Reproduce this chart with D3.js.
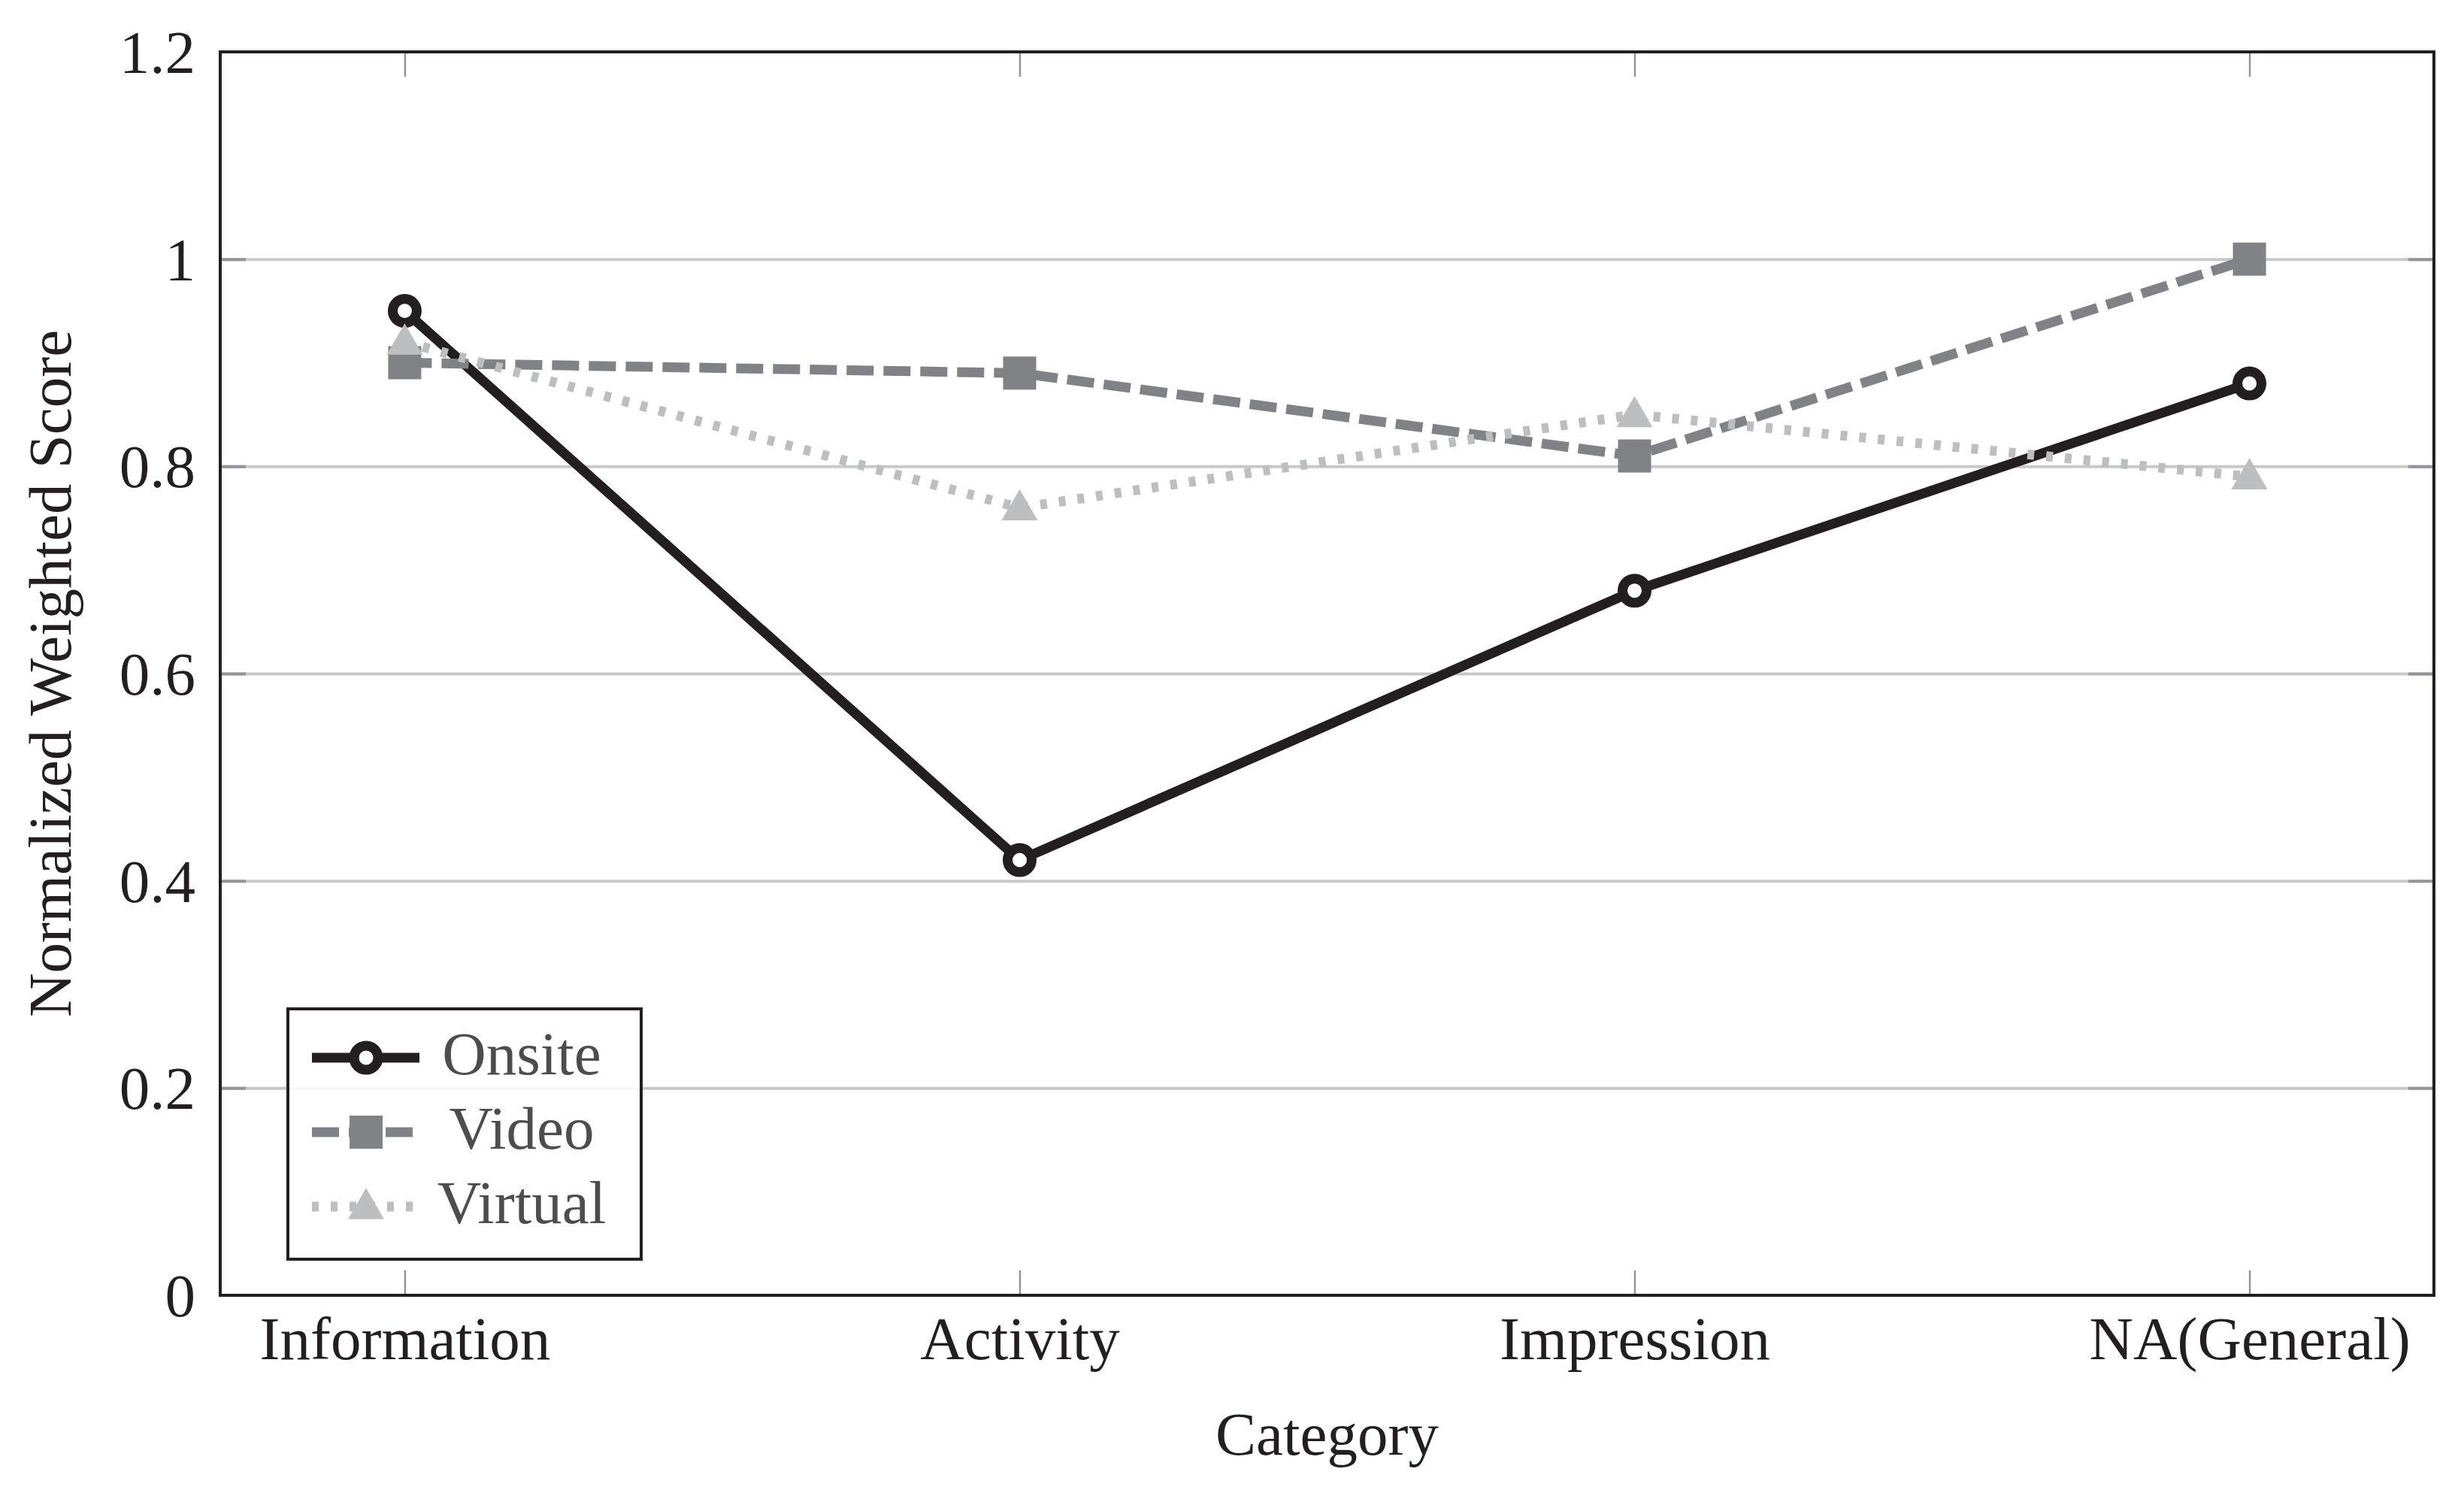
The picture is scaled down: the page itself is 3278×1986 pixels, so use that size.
<!DOCTYPE html>
<html>
<head>
<meta charset="utf-8">
<script src="https://cdn.jsdelivr.net/npm/d3@7"></script>
<style>
  body { margin: 0; background: #fff; }
  text { font-family: "Liberation Serif", "DejaVu Serif", serif; }
</style>
</head>
<body>
<div id="my_dataviz"></div>
<script>
// data
var categories = ["Information", "Activity", "Impression", "NA(General)"];
var onsite  = [0.95, 0.42, 0.68, 0.88];
var video   = [0.90, 0.89, 0.81, 1.00];
var virtual = [0.92, 0.76, 0.85, 0.79];
var seriesNames = ["Onsite", "Video", "Virtual"];
var yTicks = [0, 0.2, 0.4, 0.6, 0.8, 1.0, 1.2];
var yTickLabels = ["0", "0.2", "0.4", "0.6", "0.8", "1", "1.2"];

// set the dimensions and margins of the graph
var margin = {top: 69, right: 40, bottom: 263, left: 293},
    width = 3278 - margin.left - margin.right,
    height = 1986 - margin.top - margin.bottom;

var svg = d3.select("#my_dataviz")
  .append("svg")
    .attr("width", width + margin.left + margin.right)
    .attr("height", height + margin.top + margin.bottom)
  .append("g")
    .attr("transform", "translate(" + margin.left + "," + margin.top + ")");

var fontSize = 81;

var x = d3.scalePoint()
  .domain(categories)
  .range([0, width])
  .padding(0.3);

var y = d3.scaleLinear()
  .domain([0, 1.2])
  .range([height, 0]);

// horizontal grid
svg.append("g")
  .call(d3.axisLeft(y).tickValues(yTicks.slice(1, -1)).tickSize(-width).tickFormat(""))
  .call(function(g) { g.select(".domain").remove(); })
  .selectAll("line")
    .attr("stroke", "#c7c8c9")
    .attr("stroke-width", 4);

// inside ticks, left and right
svg.append("g")
  .call(d3.axisLeft(y).tickValues(yTicks.slice(1, -1)).tickSize(-34).tickFormat(""))
  .call(function(g) { g.select(".domain").remove(); })
  .selectAll("line").attr("stroke", "#939598").attr("stroke-width", 4);
svg.append("g")
  .attr("transform", "translate(" + width + ",0)")
  .call(d3.axisRight(y).tickValues(yTicks.slice(1, -1)).tickSize(-34).tickFormat(""))
  .call(function(g) { g.select(".domain").remove(); })
  .selectAll("line").attr("stroke", "#939598").attr("stroke-width", 4);

// x ticks, bottom and top
svg.append("g")
  .attr("transform", "translate(0," + height + ")")
  .call(d3.axisBottom(x).tickSize(-33).tickFormat(""))
  .call(function(g) { g.select(".domain").remove(); })
  .selectAll("line").attr("stroke", "#939598").attr("stroke-width", 2.5);
svg.append("g")
  .call(d3.axisTop(x).tickSize(-33).tickFormat(""))
  .call(function(g) { g.select(".domain").remove(); })
  .selectAll("line").attr("stroke", "#939598").attr("stroke-width", 2.5);

// tick labels
svg.append("g")
  .call(d3.axisLeft(y).tickValues(yTicks).tickSize(0).tickPadding(33)
    .tickFormat(function(d, i) { return yTickLabels[i]; }))
  .call(function(g) { g.select(".domain").remove(); })
  .selectAll("text")
    .attr("fill", "#231f20")
    .attr("dy", "0.34em")
    .style("font-size", fontSize + "px")
    .style("font-family", "Liberation Serif");

svg.append("g")
  .attr("transform", "translate(0," + height + ")")
  .call(d3.axisBottom(x).tickSize(0).tickPadding(27))
  .call(function(g) { g.select(".domain").remove(); })
  .selectAll("text")
    .attr("fill", "#231f20")
    .style("font-size", fontSize + "px")
    .style("font-family", "Liberation Serif");

// axis titles
svg.append("text")
  .attr("x", width / 2)
  .attr("y", 1935 - margin.top)
  .style("text-anchor", "middle")
  .style("font-size", fontSize + "px")
  .attr("fill", "#231f20")
  .text("Category");

svg.append("text")
  .attr("transform", "translate(" + (94 - margin.left) + "," + (height / 2) + ") rotate(-90)")
  .style("text-anchor", "middle")
  .style("font-size", fontSize + "px")
  .attr("fill", "#231f20")
  .text("Normalized Weighted Score");

// series styles
var styles = [
  {name: seriesNames[0], values: onsite,  color: "#231f20", dash: null,    marker: "circle"},
  {name: seriesNames[1], values: video,   color: "#808285", dash: "36,13", marker: "square"},
  {name: seriesNames[2], values: virtual, color: "#bcbec0", dash: "9,16",  marker: "triangle"}
];

var line = d3.line()
  .x(function(d, i) { return x(categories[i]); })
  .y(function(d) { return y(d); });

function drawMarker(g, kind, color, cx, cy) {
  if (kind === "circle") {
    g.append("circle")
      .attr("cx", cx).attr("cy", cy).attr("r", 16)
      .attr("fill", "#fff")
      .attr("stroke", color)
      .attr("stroke-width", 13);
  } else if (kind === "square") {
    g.append("rect")
      .attr("x", cx - 22).attr("y", cy - 22)
      .attr("width", 44).attr("height", 44)
      .attr("fill", color);
  } else {
    g.append("path")
      .attr("d", d3.symbol().type(d3.symbolTriangle).size(1000)())
      .attr("transform", "translate(" + cx + "," + (cy + 3) + ")")
      .attr("fill", color);
  }
}

styles.forEach(function(s) {
  var g = svg.append("g");
  g.append("path")
    .datum(s.values)
    .attr("d", line)
    .attr("fill", "none")
    .attr("stroke", s.color)
    .attr("stroke-width", 13)
    .attr("stroke-dasharray", s.dash)
    .attr("stroke-linejoin", "round");
  s.values.forEach(function(v, i) {
    drawMarker(g, s.marker, s.color, x(categories[i]), y(v));
  });
});

// frame
svg.append("rect")
  .attr("width", width)
  .attr("height", height)
  .attr("fill", "none")
  .attr("stroke", "#231f20")
  .attr("stroke-width", 4);

// legend
var lg = svg.append("g")
  .attr("transform", "translate(" + (383 - margin.left) + "," + (1342 - margin.top) + ")");
lg.append("rect")
  .attr("width", 470)
  .attr("height", 333)
  .attr("fill", "#fff")
  .attr("fill-opacity", 0.85)
  .attr("stroke", "#231f20")
  .attr("stroke-width", 4);

styles.forEach(function(s, i) {
  var ry = 65 + i * 99;
  lg.append("line")
    .attr("x1", 32).attr("x2", 175)
    .attr("y1", ry).attr("y2", ry)
    .attr("stroke", s.color)
    .attr("stroke-width", 13)
    .attr("stroke-dasharray", s.dash);
  drawMarker(lg, s.marker, s.color, 104, ry);
  lg.append("text")
    .attr("x", 311)
    .attr("y", ry + 22)
    .style("text-anchor", "middle")
    .style("font-size", fontSize + "px")
    .attr("fill", "#4d4d4f")
    .text(s.name);
});
</script>
</body>
</html>
